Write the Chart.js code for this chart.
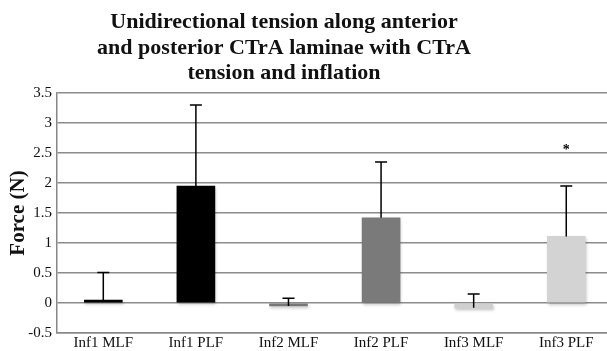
<!DOCTYPE html>
<html>
<head>
<meta charset="utf-8">
<script src="https://cdn.jsdelivr.net/npm/chart.js@4/dist/chart.umd.min.js"></script>
<style>
  html, body { margin: 0; padding: 0; background: #fff; }
  #wrap { width: 607px; height: 351px; }
</style>
</head>
<body>
<div id="wrap"><canvas id="chart"></canvas></div>
<script>
const categories = ["Inf1 MLF", "Inf1 PLF", "Inf2 MLF", "Inf2 PLF", "Inf3 MLF", "Inf3 PLF"];
const forceMeans = [0.05, 1.95, -0.05, 1.42, -0.08, 1.11];
const forceErrors = [0.46, 1.35, 0.13, 0.93, 0.23, 0.84];
const markers = ["", "", "", "", "", "*"];
const markerY = [null, null, null, null, null, 2.57];
const barColors = ["#000000", "#000000", "#777777", "#7a7a7a", "#d0d0d0", "#d3d3d3"];
const yTicks = [-0.5, 0, 0.5, 1, 1.5, 2, 2.5, 3, 3.5];
const titleLines = [
  "Unidirectional tension along anterior",
  "and posterior CTrA laminae with CTrA",
  "tension and inflation"
];

const serif = "'Liberation Serif', 'DejaVu Serif', serif";

// title drawn by hand so it can sit a bit left of the canvas centre, like the source
const titleBlock = {
  id: "titleBlock",
  afterDraw(chart) {
    const { ctx } = chart;
    ctx.save();
    ctx.fillStyle = "#111";
    ctx.font = "bold 22px " + serif;
    ctx.textAlign = "center";
    ctx.textBaseline = "alphabetic";
    titleLines.forEach((t, i) => ctx.fillText(t, 284, 28 + i * 25.5));
    ctx.restore();
  }
};

// soft drop shadow under the bars
const barShadow = {
  id: "barShadow",
  beforeDatasetDraw(chart) {
    const { ctx } = chart;
    ctx.save();
    ctx.shadowColor = "rgba(0,0,0,0.22)";
    ctx.shadowBlur = 3;
    ctx.shadowOffsetX = 1;
    ctx.shadowOffsetY = 2;
  },
  afterDatasetDraw(chart) {
    chart.ctx.restore();
  }
};

// upward-only error bars with caps, plus the significance star
const errorBars = {
  id: "errorBars",
  afterDatasetsDraw(chart) {
    const { ctx, scales: { x, y } } = chart;
    ctx.save();
    ctx.strokeStyle = "#000";
    ctx.lineWidth = 1.5;
    forceMeans.forEach((v, i) => {
      const px = x.getPixelForValue(i);
      const y0 = y.getPixelForValue(v);
      const y1 = y.getPixelForValue(v + forceErrors[i]);
      ctx.beginPath();
      ctx.moveTo(px, y0);
      ctx.lineTo(px, y1);
      ctx.moveTo(px - 6, y1);
      ctx.lineTo(px + 6, y1);
      ctx.stroke();
    });
    ctx.fillStyle = "#000";
    ctx.font = "bold 14px " + serif;
    ctx.textAlign = "center";
    ctx.textBaseline = "middle";
    markers.forEach((m, i) => {
      if (m) ctx.fillText(m, x.getPixelForValue(i), y.getPixelForValue(markerY[i]) + 2);
    });
    ctx.restore();
  }
};

new Chart(document.getElementById("chart"), {
  type: "bar",
  data: {
    datasets: [{
      data: forceMeans.map((v, i) => ({ x: i, y: v })),
      backgroundColor: barColors,
      borderWidth: 0,
      barThickness: 38
    }]
  },
  options: {
    responsive: true,
    maintainAspectRatio: false,
    animation: false,
    layout: { padding: { left: 6, right: 0, top: 93, bottom: 0 } },
    plugins: {
      legend: { display: false },
      tooltip: { enabled: false },
      title: { display: false }
    },
    scales: {
      x: {
        type: "linear",
        offset: false,
        min: -0.5,
        max: 5.44,
        afterBuildTicks: s => { s.ticks = categories.map((c, i) => ({ value: i })); },
        afterFit: s => { s.height = 18; },
        grid: { display: false, drawTicks: false },
        border: { color: "#888", width: 1.5 },
        ticks: {
          callback: v => categories[v],
          color: "#111",
          padding: 1,
          maxRotation: 0,
          autoSkip: false,
          font: { family: serif, size: 15 }
        }
      },
      y: {
        min: -0.5,
        max: 3.5,
        afterBuildTicks: s => { s.ticks = yTicks.map(v => ({ value: v })); },
        afterFit: s => { s.width = 51; },
        grid: { color: "#8c8c8c", lineWidth: 1.5, drawTicks: false },
        border: { color: "#888", width: 1.5 },
        ticks: {
          callback: v => String(v),
          color: "#111",
          padding: 5,
          font: { family: serif, size: 15 }
        },
        title: {
          display: true,
          text: "Force (N)",
          color: "#111",
          font: { family: serif, size: 21, weight: "bold" },
          padding: { top: 0, bottom: 0 }
        }
      }
    }
  },
  plugins: [barShadow, errorBars, titleBlock]
});
</script>
</body>
</html>
